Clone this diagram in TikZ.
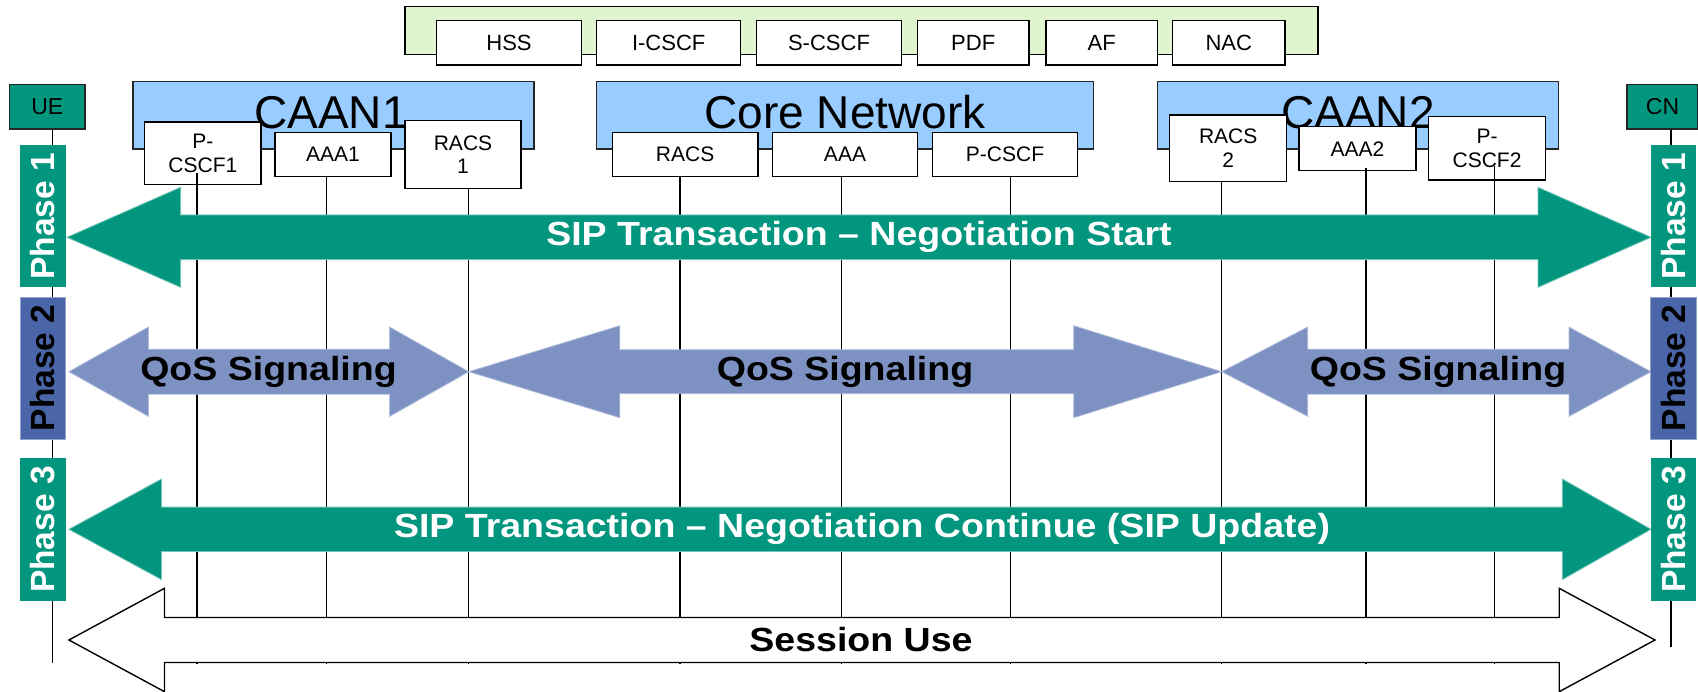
\documentclass[tikz,border=0pt]{standalone}
\usepackage{fontspec}
\setmainfont{Liberation Sans}
\newfontfamily\widesans[FakeStretch=1.12]{Liberation Sans}
\definecolor{teal0}{HTML}{03967F}
\definecolor{phblue}{HTML}{4A65A8}
\definecolor{qosblue}{HTML}{7D91C3}
\definecolor{netblue}{HTML}{99CCFF}
\definecolor{bandgreen}{HTML}{E0F4D0}
% double-headed block arrow: style, left tip x, right tip x, centre y,
% shaft half height, head half height, left head length, right head length
\newcommand{\dblarrow}[8]{%
  \path[#1] (#2,#4) -- ({#2+#7},{#4-#6}) -- ({#2+#7},{#4-#5}) -- ({#3-#8},{#4-#5})
    -- ({#3-#8},{#4-#6}) -- (#3,#4) -- ({#3-#8},{#4+#6}) -- ({#3-#8},{#4+#5})
    -- ({#2+#7},{#4+#5}) -- ({#2+#7},{#4+#6}) -- cycle;}
\begin{document}
\begin{tikzpicture}[x=1pt,y=-1pt,
  fnbox/.style={draw=black, line width=1.4pt, fill=white, inner sep=0pt, align=center,
    font=\fontsize{21}{23.5}\selectfont},
  topbox/.style={fnbox, font=\fontsize{22}{24}\selectfont},
  band/.style={draw=black, line width=1.4pt, fill=bandgreen, inner sep=0pt},
  netbox/.style={draw=black!85, line width=1.4pt, fill=netblue, inner sep=0pt},
  netlabel/.style={anchor=base, inner sep=0pt, font=\fontsize{46}{50}\selectfont},
  endbox/.style={draw=black!85, line width=1.2pt, fill=teal0, inner sep=0pt,
    font=\fontsize{23}{24}\selectfont},
  phasebox/.style={rotate=90, inner sep=0pt, minimum width=142pt, minimum height=45.5pt,
    font=\fontsize{33.5}{36}\selectfont\bfseries},
  lifeline/.style={draw=black, line width=1.3pt},
  sipfill/.style={fill=teal0, draw=teal0!55!white, line width=0.8pt},
  qosfill/.style={fill=qosblue, draw=qosblue!60!white, line width=0.8pt},
  usefill/.style={fill=white, draw=black, line width=1.4pt, line join=miter},
  arrowtext/.style={inner sep=0pt, font=\widesans\fontsize{33.5}{38}\selectfont\bfseries},
]
\useasboundingbox (0,0) rectangle (1698,692);

% IMS control band
\node[band, minimum width=913.2pt, minimum height=47.6pt] (ims) at (861.5,30.5) {};
\node[topbox, minimum width=144.7pt, minimum height=44.3pt] (hss)   at (509,42.9)    {HSS};
\node[topbox, minimum width=143.9pt, minimum height=44.3pt] (icscf) at (668.7,42.9)  {I-CSCF};
\node[topbox, minimum width=144.7pt, minimum height=44.3pt] (scscf) at (829,42.9)    {S-CSCF};
\node[topbox, minimum width=111.6pt, minimum height=44.3pt] (pdf)   at (973.2,42.9)  {PDF};
\node[topbox, minimum width=111.4pt, minimum height=44.3pt] (af)    at (1101.7,42.9) {AF};
\node[topbox, minimum width=112.1pt, minimum height=44.3pt] (nac)   at (1228.8,42.9) {NAC};

% access and core networks
\node[netbox, minimum width=401pt,   minimum height=67.3pt] (caan1) at (333.3,115.35) {};
\node[netbox, minimum width=496.7pt, minimum height=67.3pt] (core)  at (845,115.35)   {};
\node[netbox, minimum width=401.1pt, minimum height=67.3pt] (caan2) at (1358,115.35)  {};
\node[netlabel] (caan1lbl) at (331,129) {CAAN1};
\node[netlabel] (corelbl)  at (845,129)   {Core Network};
\node[netlabel] (caan2lbl) at (1358,129)  {CAAN2};

% network functions
\node[fnbox, minimum width=116.3pt, minimum height=62.3pt] (pcscf1) at (202.9,153.2) {P-\\CSCF1};
\node[fnbox, minimum width=116.2pt, minimum height=44.4pt] (aaa1)   at (332.9,154.5) {AAA1};
\node[fnbox, minimum width=116.3pt, minimum height=67.6pt] (racs1)  at (463,154.5)   {RACS\\1};
\node[fnbox, minimum width=145.4pt, minimum height=44.4pt] (racs)   at (685.1,154.5) {RACS};
\node[fnbox, minimum width=144.7pt, minimum height=44.4pt] (aaa)    at (845,154.5)   {AAA};
\node[fnbox, minimum width=144.7pt, minimum height=44.4pt] (pcscf)  at (1005,154.5)  {P-CSCF};
\node[fnbox, minimum width=117.1pt, minimum height=66.7pt] (racs2)  at (1228.2,148.3) {RACS\\2};
\node[fnbox, minimum width=117pt,   minimum height=44pt]   (aaa2)   at (1357.5,148.7) {AAA2};
\node[fnbox, minimum width=117.5pt, minimum height=63.3pt] (pcscf2) at (1487,148.3)  {P-\\CSCF2};

% end points
\node[endbox, minimum width=75.4pt, minimum height=44.7pt] (ue) at (47.3,106.6)  {UE};
\node[endbox, minimum width=71pt,   minimum height=44.7pt] (cn) at (1662.5,106.6) {CN};

% lifelines
\coordinate (ueEnd)     at (52.8,663.3);
\coordinate (cnEnd)     at (1671,647.3);
\coordinate (pcscf1Top) at (197,172.7);
\coordinate (pcscf1End) at (197,664);
\coordinate (aaa1End)   at (326.8,664);
\coordinate (racs1End)  at (468.8,664);
\coordinate (racsEnd)   at (680,664);
\coordinate (aaaEnd)    at (841.6,664);
\coordinate (pcscfEnd)  at (1010.4,664);
\coordinate (racs2End)  at (1221.7,664);
\coordinate (aaa2Top)   at (1366,168.3);
\coordinate (aaa2End)   at (1366,664);
\coordinate (pcscf2Top) at (1494.2,166);
\coordinate (pcscf2End) at (1494.2,664);

\draw[lifeline] (ue.south -| ueEnd) -- (ueEnd);
\draw[lifeline] (cn.south -| cnEnd) -- (cnEnd);
\draw[lifeline] (pcscf1Top) -- (pcscf1End);
\draw[lifeline] (aaa1.south -| aaa1End) -- (aaa1End);
\draw[lifeline] (racs1.south -| racs1End) -- (racs1End);
\draw[lifeline] (racs.south -| racsEnd) -- (racsEnd);
\draw[lifeline] (aaa.south -| aaaEnd) -- (aaaEnd);
\draw[lifeline] (pcscf.south -| pcscfEnd) -- (pcscfEnd);
\draw[lifeline] (racs2.south -| racs2End) -- (racs2End);
\draw[lifeline] (aaa2Top) -- (aaa2End);
\draw[lifeline] (pcscf2Top) -- (pcscf2End);

% phase 1: SIP negotiation start
\dblarrow{sipfill}{67}{1651}{237.3}{22.35}{50}{113.6}{113}
\node[arrowtext, text=white] (sipstart) at (859,237.3) {SIP Transaction – Negotiation Start};

% phase 2: QoS signalling per domain
\dblarrow{qosfill}{68.9}{468.8}{371.7}{22.5}{44.7}{79.6}{79.2}
\dblarrow{qosfill}{468.8}{1221.7}{371.7}{22}{46}{151}{148}
\dblarrow{qosfill}{1221.7}{1651}{371.7}{22.5}{44.7}{86}{82}
\node[arrowtext] (qos1) at (268.5,371.7) {QoS Signaling};
\node[arrowtext] (qos2) at (845,371.7)   {QoS Signaling};
\node[arrowtext] (qos3) at (1438,371.7)  {QoS Signaling};

% phase 3: SIP update
\dblarrow{sipfill}{68.9}{1651}{529.3}{22.2}{50.3}{92.6}{88.7}
\node[arrowtext, text=white] (sipupd) at (862,529.3) {SIP Transaction – Negotiation Continue (SIP Update)};

% session use
\dblarrow{usefill}{68.9}{1655}{640}{22.5}{51.7}{95.6}{95.8}
\node[arrowtext] (session) at (861,640) {Session Use};

% phase markers
\node[phasebox, fill=teal0, text=white] (ph1l) at (43,216.3)     {Phase 1};
\node[phasebox, fill=phblue, text=black, draw=phblue!60!white, line width=0.6pt] (ph2l) at (43,367.85) {Phase 2};
\node[phasebox, fill=teal0, text=white] (ph3l) at (43,529.5)     {Phase 3};
\node[phasebox, fill=teal0, text=white] (ph1r) at (1673.5,216.3) {Phase 1};
\node[phasebox, fill=phblue, text=black, draw=phblue!60!white, line width=0.6pt] (ph2r) at (1673.5,367.85) {Phase 2};
\node[phasebox, fill=teal0, text=white] (ph3r) at (1673.5,529.5) {Phase 3};
\end{tikzpicture}
\end{document}
